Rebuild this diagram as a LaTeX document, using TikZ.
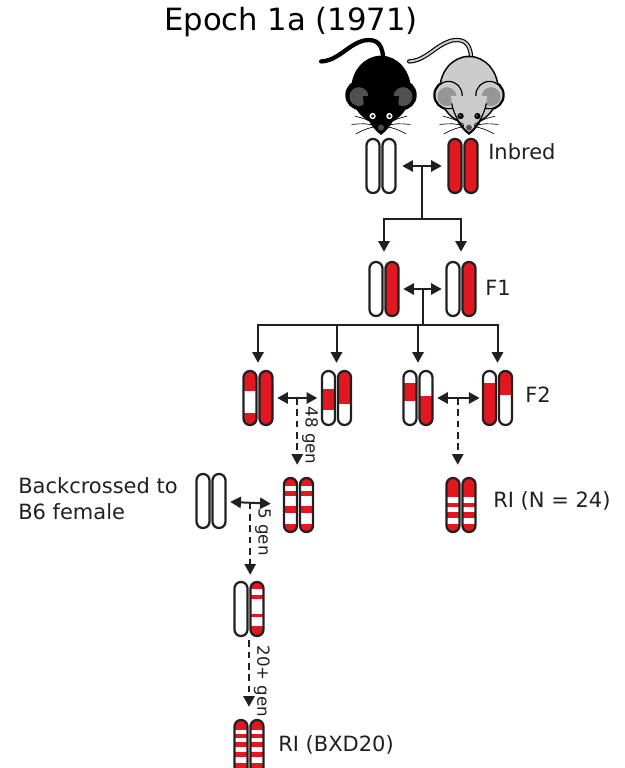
\documentclass[tikz,border=0pt]{standalone}
\usepackage{fontspec}
\setmainfont{DejaVu Sans}
\usepackage{xcolor}
\usetikzlibrary{arrows.meta, positioning, calc}
\definecolor{chromred}{RGB}{226, 23, 31}
\definecolor{inkgray}{RGB}{35, 31, 32}
\definecolor{eardark}{RGB}{80, 80, 80}
\definecolor{furgray}{RGB}{204, 204, 204}
\definecolor{eargray}{RGB}{150, 150, 150}

% one chromosome: centre x, centre y, red bands as top/bottom (px from the top end)
\newcommand{\chromosome}[3]{%
  \begin{scope}[shift={(#1,#2)}]
    \begin{scope}
      \clip[rounded corners=4.8pt] (-6.5,-27) rectangle (6.5,27);
      \fill[white] (-7,-28) rectangle (7,28);
      \foreach \a/\b in {#3} {\fill[chromred] (-7,\a-27) rectangle (7,\b-27);}
    \end{scope}
    \draw[chrom line] (-6.5,-27) rectangle (6.5,27);
  \end{scope}
}
% a homologous pair as a named node: name, centre x, centre y, bands left, bands right
\newcommand{\chrompair}[5]{%
  \node[pair box] (#1) at (#2,#3) {};
  \chromosome{#2-8}{#3}{#4}
  \chromosome{#2+8}{#3}{#5}
}

\tikzset{
    pair box/.style={
        rectangle,
        inner sep=0pt,
        minimum width=22.5pt,
        minimum height=40.5pt
    },
    chrom line/.style={
        draw=inkgray,
        line width=1.7pt,
        rounded corners=4.8pt
    },
    stem/.style={
        line width=1.5pt,
        draw=inkgray
    },
    arrow/.style={
        ->,
        line width=1.5pt,
        draw=inkgray
    },
    pair arrow/.style={
        <->,
        line width=1.5pt,
        draw=inkgray
    },
    gen arrow/.style={
        ->,
        line width=1.3pt,
        draw=inkgray,
        dash pattern=on 5pt off 3.5pt
    },
    gen label/.style={
        rotate=-90,
        anchor=south,
        inner sep=3pt,
        text=inkgray,
        font=\fontsize{12.5}{14}\selectfont
    },
    stage label/.style={
        anchor=base west,
        inner sep=0pt,
        text=inkgray,
        font=\fontsize{15.75}{19.5}\selectfont
    },
    pics/mouse/.style n args={4}{code={
        % tail first, so the body hides its root
        \draw[line width=3.2pt, line cap=round, black]
            (2,-28) .. controls (3,-48) and (-4,-53) .. (-16,-51)
            .. controls (-32,-47) and (-40,-32) .. (-57,-31);
        \draw[line width=1.5pt, line cap=round, #3]
            (2,-28) .. controls (3,-48) and (-4,-53) .. (-16,-51)
            .. controls (-32,-47) and (-40,-32) .. (-57,-31);
        % silhouette outline
        \draw[line width=2.4pt, black] (0,-4) ellipse [x radius=27, y radius=31]
            (-19.5,1) circle [radius=13] (19.5,1) circle [radius=13];
        \draw[line width=2.4pt, black] (-17,2) .. controls (-17,18) and (-6,33) .. (0,37)
            .. controls (6,33) and (17,18) .. (17,2) -- cycle;
        % fur, ears, head
        \fill[#1] (0,-4) ellipse [x radius=27, y radius=31];
        \draw[line width=0.9pt, black, fill=#1] (-19.5,1) circle [radius=13] (19.5,1) circle [radius=13];
        \fill[#2] (-21,2.5) circle [radius=9] (21,2.5) circle [radius=9];
        \fill[#1] (-17,2) .. controls (-17,18) and (-6,33) .. (0,37)
            .. controls (6,33) and (17,18) .. (17,2) -- cycle;
        \draw[line width=0.9pt, black] (-16.5,9) .. controls (-14,22) and (-6,33) .. (0,37)
            .. controls (6,33) and (14,22) .. (16.5,9);
        % eyes and nose
        \fill[#4] (-8,21) circle [radius=3] (8,21) circle [radius=3];
        \fill[black] (-8,21) circle [radius=1.7] (8,21) circle [radius=1.7];
        \fill[white] (-8.6,20.3) circle [radius=0.6] (7.4,20.3) circle [radius=0.6];
        \fill[eardark] (0,32) circle [radius=2.8];
        % whiskers
        \foreach \s in {-1,1} {
            \draw[line width=0.5pt, black] (\s*5,29) .. controls (\s*14,24) .. (\s*25,21);
            \draw[line width=0.5pt, black] (\s*5,30) .. controls (\s*16,28) .. (\s*28,29);
            \draw[line width=0.5pt, black] (\s*5,31) .. controls (\s*14,33) .. (\s*24,38);
        }
    }}
}

\begin{document}
\begin{tikzpicture}[x=0.75pt, y=-0.75pt, >={Triangle[length=8pt, width=8.5pt]}]
\useasboundingbox (0,0) rectangle (625,768);

% Title
\node[font=\fontsize{23}{27}\selectfont, text=black, anchor=base] (title) at (291,30) {Epoch 1a (1971)};

% Parent strains
\pic[scale=1.05] at (381,94) {mouse={black}{eardark}{black}{white}};
\pic[scale=1.05] at (469,94) {mouse={furgray}{eargray}{furgray}{black}};

% Inbred parents
\chrompair{inbW}{381}{166}{0/0}{0/0}
\chrompair{inbR}{463}{166}{0/54}{0/54}
\node[stage label] (inbText) at (488,159) {Inbred};

% F1
\chrompair{f1a}{384}{289}{0/0}{0/54}
\chrompair{f1b}{461}{289}{0/0}{0/54}
\node[stage label] (f1Text) at (485,295) {F1};

% F2
\chrompair{f2a}{258}{398}{0/20, 42/54}{0/54}
\chrompair{f2b}{336.5}{398}{18/39}{0/33}
\chrompair{f2c}{418}{398}{12/30}{25/54}
\chrompair{f2d}{497.5}{398}{12/54}{0/24}
\node[stage label] (f2Text) at (525,402) {F2};

% Recombinant inbred lines
\chrompair{ri48}{298.5}{505}{0/8, 13/18, 28/35, 46/54}{0/8, 13/18, 28/35, 46/54}
\chrompair{riN}{461}{505}{0/19, 25/29, 34/40, 46/54}{0/19, 25/29, 34/40, 46/54}
\node[stage label] (riNText) at (493,507) {RI (N = 24)};

% Backcross branch
\chrompair{bc}{211}{501}{0/0}{0/0}
\node[stage label, anchor=west, align=left] (bcText) at (18,499) {Backcrossed to\\B6 female};
\chrompair{bc2}{249}{609}{0/0}{0/7, 13/17, 32/35, 44/54}
\chrompair{bxd}{249}{747}{0/10, 14/18, 22/27, 32/37, 43/48, 52/54}{0/10, 14/18, 22/27, 32/37, 43/48, 52/54}
\node[stage label] (bxdText) at (278,751) {RI (BXD20)};

% crosses
\draw[pair arrow, shorten <=4.5pt, shorten >=4.5pt] (inbW) -- (inbR);
\coordinate (inbMid) at ($(inbW.east)!0.5!(inbR.west)$);
\coordinate (inbJ) at ($(inbMid)+(0,53)$);
\draw[stem] (inbMid) -- (inbJ);
\draw[arrow, shorten >=7.5pt] (inbJ) -| (f1a);
\draw[arrow, shorten >=7.5pt] (inbJ) -| (f1b);

\draw[pair arrow, shorten <=3pt, shorten >=3pt] (f1a) -- (f1b);
\coordinate (f1Mid) at ($(f1a.east)!0.5!(f1b.west)$);
\coordinate (f1J) at ($(f1Mid)+(0,36)$);
\draw[stem] (f1Mid) -- (f1J);
\foreach \p in {f2a, f2b, f2c, f2d}
    \draw[arrow, shorten >=6pt] (f1J) -| (\p);

% inbreeding
\draw[pair arrow, shorten <=3pt, shorten >=3pt] (f2a) -- (f2b);
\coordinate (abMid) at ($(f2a.east)!0.5!(f2b.west)$);
\draw[gen arrow, shorten >=9.75pt] (abMid) -- node[gen label, pos=0.47] {48 gen} (abMid |- ri48.north);

\draw[pair arrow, shorten <=3pt, shorten >=2pt] (f2c) -- (f2d);
\coordinate (cdMid) at ($(f2c.east)!0.5!(f2d.west)$);
\draw[gen arrow, shorten >=9.75pt] (cdMid) -- (cdMid |- riN.north);

% backcross
\draw[pair arrow, shorten <=3pt, shorten >=9.4pt] (bc) -- (ri48);
\coordinate (bcMid) at ($(bc.east)!0.42!(ri48.west)$);
\draw[gen arrow, shorten >=5.25pt] (bcMid) -- node[gen label, pos=0.37] {5 gen} (bcMid |- bc2.north);
\draw[gen arrow, shorten <=3pt, shorten >=9.75pt] (bc2) -- node[gen label, pos=0.54] {20+ gen} (bxd);

\end{tikzpicture}
\end{document}
